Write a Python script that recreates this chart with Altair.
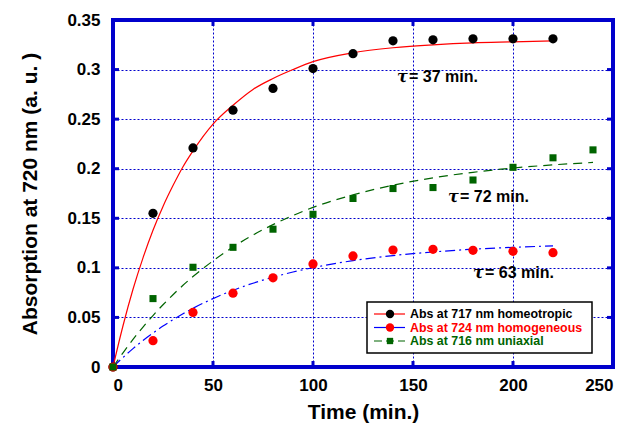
import altair as alt
import pandas as pd

FONT = "Liberation Sans"

# measured points
t_pts = [0, 20, 40, 60, 80, 100, 120, 140, 160, 180, 200, 220]
homeo = [0, 0.155, 0.221, 0.259, 0.281, 0.301, 0.316, 0.329, 0.330, 0.331, 0.331, 0.331]
homog = [0, 0.0265, 0.055, 0.0745, 0.090, 0.104, 0.112, 0.118, 0.1187, 0.1177, 0.1167, 0.1153]
t_uni = [0, 20, 40, 60, 80, 100, 120, 140, 160, 180, 200, 220, 240]
uni = [0, 0.069, 0.1006, 0.1207, 0.139, 0.154, 0.170, 0.180, 0.181, 0.1886, 0.2014, 0.211, 0.219]

# fitted curves
t_fit = [0, 5, 10, 15, 20, 25, 30, 35, 40, 50, 60, 70, 80, 90, 100, 120, 140, 160, 180, 200, 220]
fit_homeo = [0, 0.0416, 0.0784, 0.1101, 0.138, 0.162, 0.183, 0.202, 0.218, 0.245, 0.264, 0.280,
             0.291, 0.300, 0.308, 0.317, 0.322, 0.325, 0.327, 0.328, 0.329]
fit_homog = [0, 0.0096, 0.0185, 0.0268, 0.0343, 0.0413, 0.0477, 0.0537, 0.0592, 0.0690, 0.0774,
             0.0845, 0.0906, 0.0958, 0.1002, 0.1073, 0.1124, 0.1160, 0.1188, 0.1207, 0.1222]
t_fit_u = [0, 5, 10, 15, 20, 25, 30, 35, 40, 50, 60, 70, 80, 90, 100, 120, 140, 160, 180, 200, 220, 240]
fit_uni = [0, 0.0143, 0.0278, 0.0403, 0.0519, 0.0628, 0.0729, 0.0824, 0.0912, 0.1070, 0.121,
           0.1331, 0.1436, 0.1528, 0.161, 0.1736, 0.1834, 0.1908, 0.1964, 0.2007, 0.2039, 0.2063]

legend_labels = ["Abs at 717 nm homeotropic", "Abs at 724 nm homogeneous", "Abs at 716 nm uniaxial"]
annot = [("= 37 min.", 142, 0.2925), ("= 72 min.", 167.5, 0.1718), ("= 63 min.", 180, 0.0948)]

x_ticks = [0, 50, 100, 150, 200, 250]
y_ticks = [0, 0.05, 0.1, 0.15, 0.2, 0.25, 0.3, 0.35]

BLUE = "#0000cc"
RED = "#ff0000"
GREEN = "#006400"
W, H = 500, 347

xs = alt.Scale(domain=[0, 250], nice=False)
ys = alt.Scale(domain=[0, 0.35], nice=False)

xax = alt.Axis(values=x_ticks, title="Time (min.)", grid=True, gridColor=BLUE, gridDash=[2, 2],
               gridWidth=1, domain=False, ticks=False, labelFont=FONT, labelFontSize=17,
               labelFontWeight="bold", labelPadding=10, titleFont=FONT, titleFontSize=21,
               titleFontWeight="bold", titlePadding=8, labelColor="black", titleColor="black")
yax = alt.Axis(values=y_ticks, title="Absorption at 720 nm (a. u. )", grid=True, gridColor=BLUE,
               gridDash=[2, 2], gridWidth=1, domain=False, ticks=False, labelFont=FONT,
               labelFontSize=17, labelFontWeight="bold", labelPadding=13, titleFont=FONT,
               titleFontSize=21, titleFontWeight="bold", titlePadding=26, labelColor="black",
               titleColor="black", format=".2~f")

base_df = pd.DataFrame({"t": [0], "v": [0]})
axes = alt.Chart(base_df).mark_point(opacity=0).encode(
    x=alt.X("t:Q", scale=xs, axis=xax), y=alt.Y("v:Q", scale=ys, axis=yax))

def fit_line(t, v, color, dash=None):
    df = pd.DataFrame({"t": t, "v": v})
    kw = dict(color=color, strokeWidth=1.2, clip=True, interpolate="monotone")
    if dash:
        kw["strokeDash"] = dash
    return alt.Chart(df).mark_line(**kw).encode(x=alt.X("t:Q", scale=xs), y=alt.Y("v:Q", scale=ys))

def pts(t, v, color, shape, size):
    df = pd.DataFrame({"t": t, "v": v})
    return alt.Chart(df).mark_point(filled=True, color=color, shape=shape, size=size, opacity=1).encode(
        x=alt.X("t:Q", scale=xs), y=alt.Y("v:Q", scale=ys))

layers = [axes,
          fit_line(t_fit, fit_homeo, RED),
          fit_line(t_fit_u, fit_uni, GREEN, [9, 6]),
          fit_line(t_fit, fit_homog, "#0000ff", [10, 4, 2, 4]),
          pts(t_pts, homeo, "black", "circle", 85),
          pts(t_pts, homog, RED, "circle", 85),
          pts(t_uni, uni, GREEN, "square", 50)]

# inward ticks on the frame
xt = pd.DataFrame({"t": x_ticks[1:-1]})
yt = pd.DataFrame({"v": y_ticks[1:-1]})
for y0, y1 in [(H, H - 6), (0, 6)]:
    layers.append(alt.Chart(xt).mark_rule(color=BLUE, strokeWidth=3).encode(
        x=alt.X("t:Q", scale=xs), y=alt.value(y0), y2=alt.value(y1)))
for x0, x1 in [(0, 6), (W, W - 6)]:
    layers.append(alt.Chart(yt).mark_rule(color=BLUE, strokeWidth=3).encode(
        y=alt.Y("v:Q", scale=ys), x=alt.value(x0), x2=alt.value(x1)))

# annotations
for txt, tx, ty in annot:
    adf = pd.DataFrame({"t": [tx], "v": [ty], "s": [txt]})
    layers.append(alt.Chart(adf).mark_text(text="τ", font="DejaVu Serif", fontStyle="italic",
                                            fontWeight="bold", fontSize=16, align="left",
                                            baseline="middle", color="black").encode(
        x=alt.X("t:Q", scale=xs), y=alt.Y("v:Q", scale=ys)))
    layers.append(alt.Chart(adf).mark_text(font=FONT, fontWeight="bold", fontSize=16, align="left",
                                            baseline="middle", dx=12, color="black").encode(
        x=alt.X("t:Q", scale=xs), y=alt.Y("v:Q", scale=ys), text="s:N"))

# legend box
one = pd.DataFrame({"a": [0]})
layers.append(alt.Chart(one).mark_rect(fill="white", stroke="black", strokeWidth=1.5).encode(
    x=alt.value(254), x2=alt.value(479), y=alt.value(282), y2=alt.value(333)))
leg_line_col = [RED, "#0000ff", GREEN]
leg_mark_col = ["black", RED, GREEN]
leg_shape = ["circle", "circle", "square"]
leg_size = [70, 70, 40]
leg_dash = [None, None, [8, 4]]
leg_text_col = ["black", RED, GREEN]
row_y = [294, 307.5, 321]
for i, lab in enumerate(legend_labels):
    kw = dict(color=leg_line_col[i], strokeWidth=1.2)
    if leg_dash[i]:
        kw["strokeDash"] = leg_dash[i]
    layers.append(alt.Chart(one).mark_rule(**kw).encode(
        x=alt.value(261), x2=alt.value(292), y=alt.value(row_y[i])))
    layers.append(alt.Chart(one).mark_point(filled=True, opacity=1, color=leg_mark_col[i],
                                             shape=leg_shape[i], size=leg_size[i]).encode(
        x=alt.value(277), y=alt.value(row_y[i])))
    layers.append(alt.Chart(one).mark_text(text=lab, font=FONT, fontWeight="bold", fontSize=12.4,
                                            align="left", baseline="middle",
                                            color=leg_text_col[i]).encode(
        x=alt.value(297), y=alt.value(row_y[i])))

chart = alt.layer(*layers).properties(
    width=W, height=H,
    padding={"left": 105, "top": 12, "right": 8, "bottom": 60},
    autosize=alt.AutoSizeParams(type="none"),
).configure_view(stroke=BLUE, strokeWidth=4)

chart.save("out.html", embed_options={"renderer": "svg", "actions": False})
